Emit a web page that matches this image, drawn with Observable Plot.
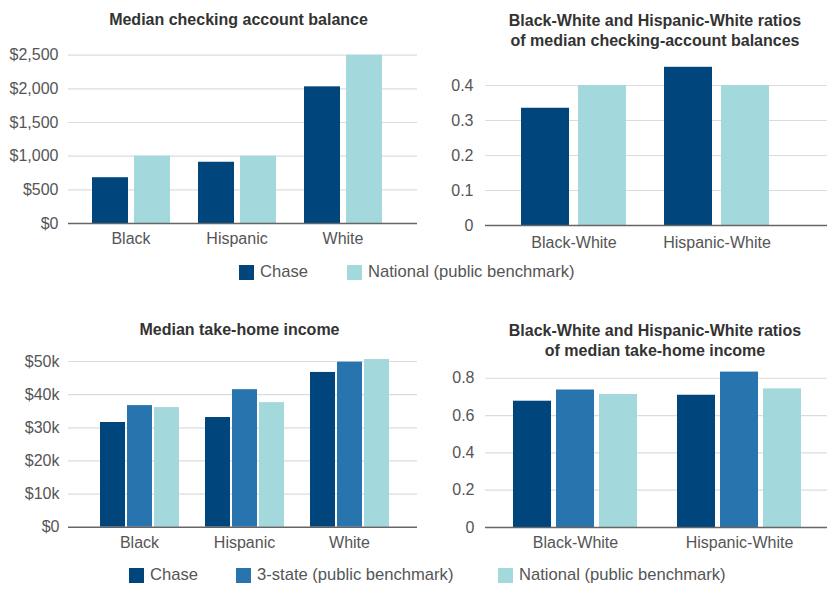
<!DOCTYPE html>
<html>
<head>
<meta charset="utf-8">
<script src="https://cdn.jsdelivr.net/npm/d3@7"></script>
<script src="https://cdn.jsdelivr.net/npm/@observablehq/plot@0.6"></script>
<style>
  html, body { margin: 0; padding: 0; background: #fff; }
  #root { position: relative; width: 833px; height: 593px; font-family: "Liberation Sans", Arial, sans-serif; }
  .title { position: absolute; width: 400px; text-align: center; font-weight: bold; font-size: 16px; line-height: 20px; color: #333; }
  .leg { position: absolute; display: flex; align-items: center; font-size: 16.6px; color: #555; white-space: nowrap; }
  .leg span.sw { display: inline-block; width: 15px; height: 15px; margin-right: 6px; }
  svg { position: absolute; }
</style>
</head>
<body>
<div id="root"></div>
<script>
// ---- data ----
const groups = ["Black", "Hispanic", "White"];
const ratioGroups = ["Black-White", "Hispanic-White"];
const seriesNames = ["Chase", "3-state (public benchmark)", "National (public benchmark)"];
const seriesColors = ["#00457c", "#2774ae", "#a3d9dc"];

const balanceChase = [680, 910, 2030];
const balanceNational = [1000, 1000, 2500];
const balanceTicks = [0, 500, 1000, 1500, 2000, 2500];

const balanceRatioChase = [0.335, 0.452];
const balanceRatioNational = [0.40, 0.40];
const balanceRatioTicks = [0, 0.1, 0.2, 0.3, 0.4];

const incomeChase = [31600, 33100, 46700];
const income3State = [36700, 41500, 49800];
const incomeNational = [36100, 37600, 50600];
const incomeTicks = [0, 10000, 20000, 30000, 40000, 50000];

const incomeRatioChase = [0.677, 0.709];
const incomeRatio3State = [0.737, 0.833];
const incomeRatioNational = [0.713, 0.743];
const incomeRatioTicks = [0, 0.2, 0.4, 0.6, 0.8];

// ---- helpers ----
function rows(cats, seriesList) {
  const out = [];
  cats.forEach((c, i) => seriesList.forEach(([name, vals]) => out.push({group: c, series: name, value: vals[i]})));
  return out;
}

const root = document.getElementById("root");
const font = '"Liberation Sans", Arial, sans-serif';

function place(svg, left, top) {
  svg.style.left = left + "px";
  svg.style.top = top + "px";
  root.appendChild(svg);
}

function panel({data, cats, series, ticks, domain, fmt, left, top, width, height, mt, mb, ml, mr,
                fxInner, fxOuter, fxAlign, xInner, yPad, xPad}) {
  const common = {
    width, height,
    marginTop: mt, marginBottom: mb, marginLeft: ml, marginRight: mr,
    style: {fontFamily: font, fontSize: "16px", color: "#555", background: "transparent", overflow: "visible"}
  };
  // back layer: y axis + gridlines across the whole frame
  const back = Plot.plot({
    ...common,
    y: {domain, ticks, tickFormat: fmt, tickSize: 0, tickPadding: yPad, label: null},
    marks: [
      Plot.ruleY(ticks.filter(t => t > 0), {stroke: "#dcdcdc", strokeWidth: 1.2})
    ]
  });
  // middle layer: grouped bars
  const mid = Plot.plot({
    ...common,
    fx: {domain: cats, paddingInner: fxInner, paddingOuter: fxOuter, align: fxAlign, axis: "bottom",
         tickSize: 0, tickPadding: xPad, label: null},
    x: {domain: series, paddingInner: xInner, paddingOuter: 0, axis: null},
    y: {domain, axis: null},
    color: {domain: seriesNames, range: seriesColors},
    marks: [
      Plot.barY(data, {fx: "group", x: "series", y: "value", fill: "series"})
    ]
  });
  // front layer: baseline
  const front = Plot.plot({
    ...common,
    y: {domain, axis: null},
    marks: [
      Plot.ruleY([0], {stroke: "#666", strokeWidth: 1.5})
    ]
  });
  place(back, left, top);
  place(mid, left, top);
  place(front, left, top);
}

function title(lines, cx, top) {
  const d = document.createElement("div");
  d.className = "title";
  d.style.left = (cx - 200) + "px";
  d.style.top = top + "px";
  d.innerHTML = lines.join("<br>");
  root.appendChild(d);
}

function legendItem(name, x, cy) {
  const d = document.createElement("div");
  d.className = "leg";
  d.style.left = x + "px";
  d.style.top = (cy - 10) + "px";
  d.style.height = "20px";
  const sw = document.createElement("span");
  sw.className = "sw";
  sw.style.background = seriesColors[seriesNames.indexOf(name)];
  d.appendChild(sw);
  d.appendChild(document.createTextNode(name));
  root.appendChild(d);
}

const money = d => d3.format("$,")(d);
const moneyK = d => d === 0 ? "$0" : `$${d / 1000}k`;
const ratioFmt = d => d === 0 ? "0" : d3.format(".1f")(d);

// ---- top-left ----
title(["Median checking account balance"], 238.5, 10);
panel({
  data: rows(groups, [["Chase", balanceChase], ["National (public benchmark)", balanceNational]]),
  cats: groups, series: ["Chase", "National (public benchmark)"],
  ticks: balanceTicks, domain: [0, 2500], fmt: money,
  left: 0, top: 45, width: 420, height: 210, mt: 9.7, mb: 32, ml: 68, mr: 3,
  fxInner: 0.258, fxOuter: 0.267, fxAlign: 0.4, xInner: 0.15, yPad: 10, xPad: 9
});

// ---- top-right ----
title(["Black-White and Hispanic-White ratios", "of median checking-account balances"], 655, 11);
panel({
  data: rows(ratioGroups, [["Chase", balanceRatioChase], ["National (public benchmark)", balanceRatioNational]]),
  cats: ratioGroups, series: ["Chase", "National (public benchmark)"],
  ticks: balanceRatioTicks, domain: [0, 0.46], fmt: ratioFmt,
  left: 420, top: 55, width: 413, height: 200, mt: 9, mb: 30, ml: 65, mr: 6,
  fxInner: 0.254, fxOuter: 0.318, fxAlign: 0.38, xInner: 0.155, yPad: 12, xPad: 11
});

legendItem("Chase", 239, 272);
legendItem("National (public benchmark)", 347, 272);

// ---- bottom-left ----
title(["Median take-home income"], 239.5, 320);
panel({
  data: rows(groups, [["Chase", incomeChase], ["3-state (public benchmark)", income3State], ["National (public benchmark)", incomeNational]]),
  cats: groups, series: seriesNames,
  ticks: incomeTicks, domain: [0, 51000], fmt: moneyK,
  left: 0, top: 350, width: 420, height: 210, mt: 7.7, mb: 33.3, ml: 68, mr: 3,
  fxInner: 0.238, fxOuter: 0.28, fxAlign: 0.525, xInner: 0.09, yPad: 9, xPad: 9
});

// ---- bottom-right ----
title(["Black-White and Hispanic-White ratios", "of median take-home income"], 655, 321);
panel({
  data: rows(ratioGroups, [["Chase", incomeRatioChase], ["3-state (public benchmark)", incomeRatio3State], ["National (public benchmark)", incomeRatioNational]]),
  cats: ratioGroups, series: seriesNames,
  ticks: incomeRatioTicks, domain: [0, 0.84], fmt: ratioFmt,
  left: 420, top: 360, width: 413, height: 200, mt: 10.3, mb: 33, ml: 65, mr: 6,
  fxInner: 0.242, fxOuter: 0.158, fxAlign: 0.52, xInner: 0.126, yPad: 11, xPad: 9
});

legendItem("Chase", 129, 575);
legendItem("3-state (public benchmark)", 236, 575);
legendItem("National (public benchmark)", 498, 575);
</script>
</body>
</html>
